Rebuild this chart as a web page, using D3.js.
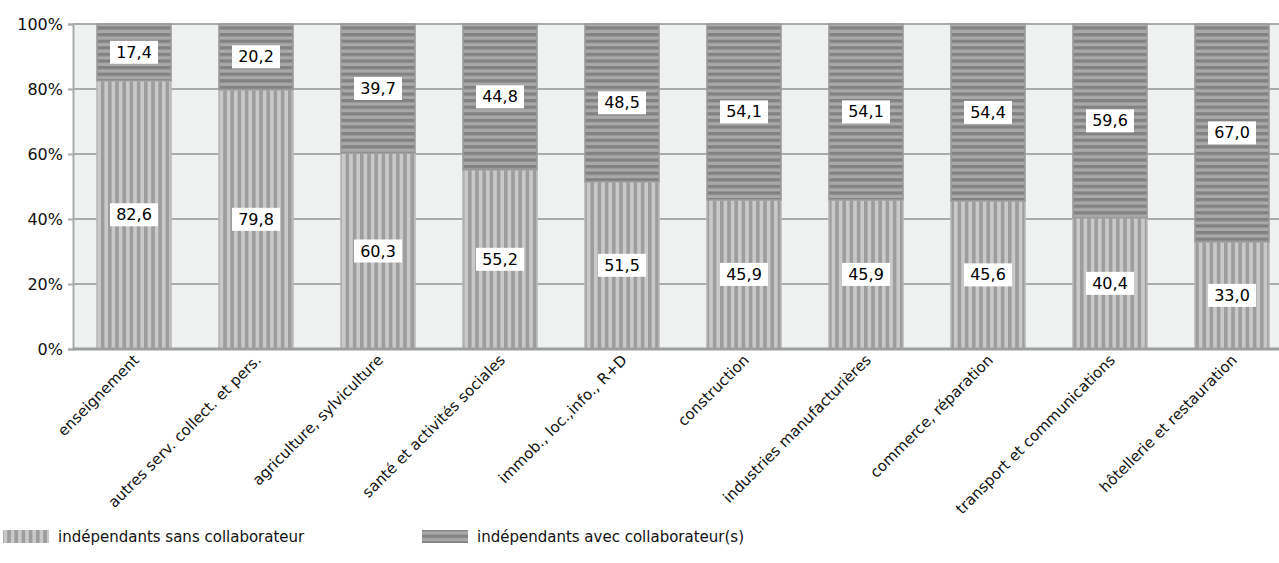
<!DOCTYPE html>
<html>
<head>
<meta charset="utf-8">
<script src="https://cdn.jsdelivr.net/npm/d3@7"></script>
<style>
  html, body { margin: 0; padding: 0; background: #fff; }
  svg { display: block; font-family: "DejaVu Sans", sans-serif; }
</style>
</head>
<body>
<svg id="chart" width="1279" height="563"></svg>
<script>
// Share of self-employed by sector: without vs. with employees (%)
const categories = [
  "enseignement",
  "autres serv. collect. et pers.",
  "agriculture, sylviculture",
  "santé et activités sociales",
  "immob., loc.,info., R+D",
  "construction",
  "industries manufacturières",
  "commerce, réparation",
  "transport et communications",
  "hôtellerie et restauration"
];
const sansCollaborateur = [82.6, 79.8, 60.3, 55.2, 51.5, 45.9, 45.9, 45.6, 40.4, 33.0];
const avecCollaborateur = [17.4, 20.2, 39.7, 44.8, 48.5, 54.1, 54.1, 54.4, 59.6, 67.0];
const yTicks = [0, 20, 40, 60, 80, 100];
const seriesNames = ["indépendants sans collaborateur", "indépendants avec collaborateur(s)"];

const svg = d3.select("#chart");
const plot = { left: 73, right: 1293, top: 24, bottom: 349 };

const x = d3.scaleBand()
  .domain(categories)
  .range([plot.left, plot.right])
  .paddingInner(0.393)
  .paddingOuter(0.1965);

const y = d3.scaleLinear().domain([0, 100]).range([plot.bottom, plot.top]);

const fmt = v => d3.format(".1f")(v).replace(".", ",");

// stripe patterns
const defs = svg.append("defs");
const pv = defs.append("pattern").attr("id", "vstripes")
  .attr("patternUnits", "userSpaceOnUse").attr("width", 7.2).attr("height", 10);
pv.append("rect").attr("width", 7.2).attr("height", 10).attr("fill", "#c9c9c9");
pv.append("rect").attr("x", 0).attr("width", 3.6).attr("height", 10).attr("fill", "#9d9d9d");

const ph = defs.append("pattern").attr("id", "hstripes")
  .attr("patternUnits", "userSpaceOnUse").attr("width", 10).attr("height", 6.6);
ph.append("rect").attr("width", 10).attr("height", 6.6).attr("fill", "#a9a9a9");
ph.append("rect").attr("y", 0).attr("width", 10).attr("height", 3.3).attr("fill", "#828282");

// plot background
svg.append("rect")
  .attr("x", plot.left).attr("y", plot.top)
  .attr("width", plot.right - plot.left).attr("height", plot.bottom - plot.top)
  .attr("fill", "#eff1f0");

// gridlines
svg.append("g").selectAll("line")
  .data(yTicks.filter(t => t > 0))
  .join("line")
  .attr("x1", plot.left).attr("x2", plot.right)
  .attr("y1", d => y(d)).attr("y2", d => y(d))
  .attr("stroke", "#a9abaa").attr("stroke-width", 2);

// y axis
const yAxis = svg.append("g")
  .attr("transform", `translate(${plot.left},0)`)
  .call(d3.axisLeft(y).tickValues(yTicks).tickFormat(d => d + "%").tickSize(5).tickPadding(5));
yAxis.select(".domain").attr("stroke", "#a9abaa").attr("stroke-width", 2);
yAxis.selectAll(".tick line").attr("stroke", "#a9abaa").attr("stroke-width", 2);
yAxis.selectAll("text").attr("font-size", 16).attr("fill", "#111")
  .attr("font-family", "'DejaVu Sans', sans-serif");

// bars
const bars = svg.append("g").selectAll("g")
  .data(categories.map((c, i) => ({ c, sans: sansCollaborateur[i], avec: avecCollaborateur[i] })))
  .join("g");

bars.append("rect")
  .attr("x", d => x(d.c)).attr("width", x.bandwidth())
  .attr("y", d => y(d.sans)).attr("height", d => y(0) - y(d.sans))
  .attr("fill", "url(#vstripes)").attr("stroke", "#b8b8b8").attr("stroke-width", 1.5);

bars.append("rect")
  .attr("x", d => x(d.c)).attr("width", x.bandwidth())
  .attr("y", d => y(d.sans + d.avec)).attr("height", d => y(d.sans) - y(d.sans + d.avec))
  .attr("fill", "url(#hstripes)").attr("stroke", "#9a9a9a").attr("stroke-width", 1.5);

// x axis baseline
svg.append("line")
  .attr("x1", plot.left).attr("x2", plot.right)
  .attr("y1", plot.bottom).attr("y2", plot.bottom)
  .attr("stroke", "#9c9e9d").attr("stroke-width", 3);

// value labels in white boxes
function valueLabel(g, cx, cy, text) {
  g.append("rect")
    .attr("x", cx - 24).attr("y", cy - 11.5)
    .attr("width", 48).attr("height", 23).attr("fill", "#fff");
  g.append("text")
    .attr("x", cx).attr("y", cy)
    .attr("text-anchor", "middle").attr("dominant-baseline", "central")
    .attr("font-size", 16).attr("fill", "#000").text(text);
}
bars.each(function(d) {
  const g = d3.select(this);
  const cx = x(d.c) + x.bandwidth() / 2;
  valueLabel(g, cx, (y(0) + y(d.sans)) / 2, fmt(d.sans));
  valueLabel(g, cx, (y(d.sans) + y(d.sans + d.avec)) / 2, fmt(d.avec));
});

// category labels, rotated
svg.append("g").selectAll("text")
  .data(categories)
  .join("text")
  .attr("transform", d => `translate(${x(d) + x.bandwidth() / 2 + 6},${plot.bottom + 12}) rotate(-45)`)
  .attr("text-anchor", "end")
  .attr("font-size", 15).attr("fill", "#111")
  .text(d => d);

// legend
const legend = svg.append("g");
const legendItems = [
  { name: seriesNames[0], fill: "url(#vstripes)", x: 3 },
  { name: seriesNames[1], fill: "url(#hstripes)", x: 422 }
];
legendItems.forEach(it => {
  legend.append("rect").attr("x", it.x).attr("y", 530).attr("width", 46).attr("height", 13)
    .attr("fill", it.fill);
  legend.append("text").attr("x", it.x + 55).attr("y", 537).attr("dominant-baseline", "central")
    .attr("font-size", 15).attr("fill", "#111").text(it.name);
});
</script>
</body>
</html>
